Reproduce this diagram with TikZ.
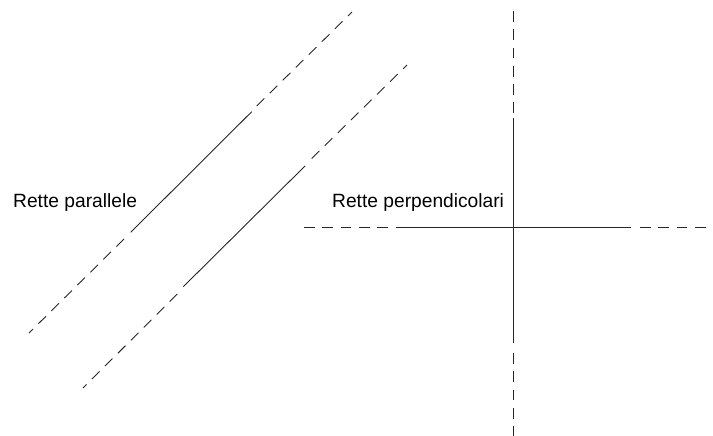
\documentclass[tikz,border=0pt]{standalone}
\usepackage{fontspec}
\setmainfont{Liberation Sans}
\tikzset{
  solidline/.style={draw=black!85, line width=0.9pt},
  dashline/.style={draw=black!85, line width=0.9pt, dash pattern=on 10.7pt off 7.6pt},
  lbl/.style={anchor=base west, inner sep=0pt, font=\fontsize{19.2}{23}\selectfont}
}
\begin{document}
\begin{tikzpicture}[x=1pt,y=-1pt]
\useasboundingbox (0,0) rectangle (713,436);
% first parallel line
\coordinate (A1) at (29,333);
\coordinate (A1i) at (124,239);
\coordinate (B1) at (130.7,232.3);
\coordinate (C1) at (251.7,111.7);
\coordinate (D1i) at (256.7,106);
\coordinate (D1) at (352,12);
% second parallel line
\coordinate (A2) at (83,388);
\coordinate (A2i) at (177.3,294);
\coordinate (B2) at (183.3,286.7);
\coordinate (C2) at (305,166);
\coordinate (D2i) at (311.7,158.5);
\coordinate (D2) at (407,65);
\draw[dashline] (A1i) -- (A1);
\draw[solidline] (B1) -- (C1);
\draw[dashline] (D1i) -- (D1);
\draw[dashline] (A2i) -- (A2);
\draw[solidline] (B2) -- (C2);
\draw[dashline] (D2i) -- (D2);
% perpendicular lines
\coordinate (H1) at (304,227);
\coordinate (H2) at (397,227);
\coordinate (H3) at (631,227);
\coordinate (H3i) at (640,227);
\coordinate (H4) at (713,227);
\coordinate (V1) at (513,11);
\coordinate (V2) at (513,118);
\coordinate (V3) at (513,343);
\coordinate (V3i) at (513,353);
\coordinate (V4) at (513,436);
\draw[dashline] (H1) -- (H2);
\draw[solidline] (H2) -- (H3);
\draw[dashline] (H3i) -- (H4);
\draw[dashline] (V1) -- (V2);
\draw[solidline] (V2) -- (V3);
\draw[dashline] (V3i) -- (V4);
% labels
\node[lbl] (par) at (13,207) {Rette parallele};
\node[lbl] (perp) at (332,207) {Rette perpendicolari};
\end{tikzpicture}
\end{document}
